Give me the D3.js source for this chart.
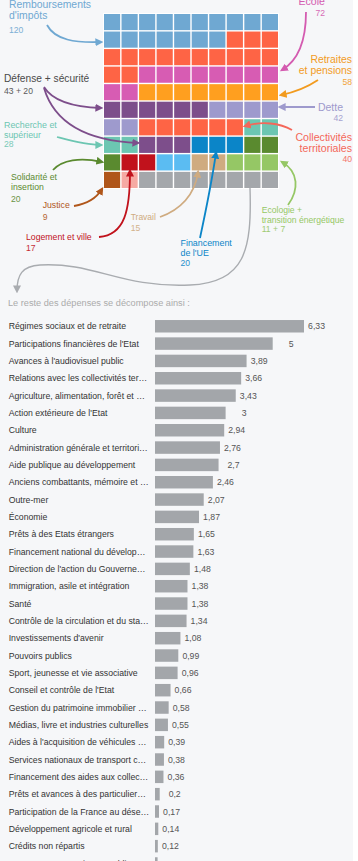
<!DOCTYPE html>
<html><head><meta charset="utf-8">
<script src="https://cdn.jsdelivr.net/npm/d3@7"></script>
<style>
html,body{margin:0;padding:0;background:#f6f7f9;}
svg{display:block;font-family:"Liberation Sans",Arial,sans-serif;}
</style></head>
<body><svg id="c" width="358" height="861"></svg>
<script>
// ---- Waffle data (runs of cells, row-major, 100 cells) ----
const waffleKeys   = ["remb","autres","ecole","retraites","defense","dette","collect","recherche","securite","ue","solidarite","logement","autre2","travail","ecologie","justice","logement2","reste"];
const waffleCounts = [17,15,10,8,6,6,6,4,3,3,3,2,2,2,3,1,1,8];

// ---- Annotation labels ----
const annNames  = ["Remboursements|d'impôts","Défense + sécurité","Recherche et|supérieur","École","Retraites|et pensions","Dette","Collectivités|territoriales","Solidarité et|insertion","Justice","Logement et ville","Travail","Financement|de l'UE","Ecologie +|transition énergétique"];
const annValues = ["120","43 + 20","28","72","58","42","40","20","9","17","15","20","11 + 7"];

// ---- Bar chart data ----
const barTitle = "Le reste des dépenses se décompose ainsi :";
const barCategories = [
 "Régimes sociaux et de retraite","Participations financières de l'Etat","Avances à l'audiovisuel public",
 "Relations avec les collectivités ter…","Agriculture, alimentation, forêt et …","Action extérieure de l'Etat",
 "Culture","Administration générale et territori…","Aide publique au développement",
 "Anciens combattants, mémoire et …","Outre-mer","Économie","Prêts à des Etats étrangers",
 "Financement national du dévelop…","Direction de l'action du Gouverne…","Immigration, asile et intégration",
 "Santé","Contrôle de la circulation et du sta…","Investissements d'avenir","Pouvoirs publics",
 "Sport, jeunesse et vie associative","Conseil et contrôle de l'Etat","Gestion du patrimoine immobilier …",
 "Médias, livre et industries culturelles","Aides à l'acquisition de véhicules …","Services nationaux de transport c…",
 "Financement des aides aux collec…","Prêts et avances à des particulier…","Participation de la France au dése…",
 "Développement agricole et rural","Crédits non répartis","Avances aux organismes publics"];
const barValues = [6.33,5,3.89,3.66,3.43,3,2.94,2.76,2.7,2.46,2.07,1.87,1.65,1.63,1.48,1.38,1.38,1.34,1.08,0.99,0.96,0.66,0.58,0.55,0.39,0.38,0.36,0.2,0.17,0.14,0.12,0.11];

// ---- Styles ----
const cellColor = d3.scaleOrdinal().domain(waffleKeys).range([
 "#6fa8d2","#fe6445","#d75cb3","#ff9f1f","#7d4e8b","#9e9acd","#fe6445","#6cc6b2","#7d4e8b","#0b85c8",
 "#5a8a2f","#c1121c","#5bbcf2","#cfab80","#95c765","#b0561a","#f6aaa3","#a4a7ab"]);

const svg = d3.select("#c");
svg.append("rect").attr("x",0).attr("y",0).attr("width",358).attr("height",861).attr("fill","#f6f7f9");
svg.append("rect").attr("x",353).attr("y",0).attr("width",5).attr("height",861).attr("fill","#ffffff");

// waffle cells
const cells = [];
waffleKeys.forEach((k,i)=>{ for(let j=0;j<waffleCounts[i];j++) cells.push(k); });
const wx = d3.scaleBand().domain(d3.range(10)).range([104,278]).paddingInner(0.08);
const wy = d3.scaleBand().domain(d3.range(10)).range([14,188]).paddingInner(0.08);
svg.append("rect").attr("x",103).attr("y",13).attr("width",176).attr("height",176).attr("fill","#ffffff");
svg.append("g").selectAll("rect").data(cells).join("rect")
  .attr("x",(d,i)=>wx(i%10)).attr("y",(d,i)=>wy(Math.floor(i/10)))
  .attr("width",wx.bandwidth()).attr("height",wy.bandwidth())
  .attr("fill",d=>cellColor(d));

// arrow markers
const defs = svg.append("defs");
function marker(id,color){
  defs.append("marker").attr("id",id).attr("viewBox","0 0 10 10").attr("refX",7).attr("refY",5)
   .attr("markerUnits","userSpaceOnUse").attr("markerWidth",8).attr("markerHeight",8).attr("orient","auto")
   .append("path").attr("d","M0,0 L10,5 L0,10 z").attr("fill",color);
}
const annColors = ["#6fa8d2","#4a4a4a","#6cc6b2","#d45bb0","#f29b1f","#9e9acd","#f4675a","#5a8a2f","#b0561a","#c1121c","#cfab80","#0b85c8","#95c765"];
const arrowColors = ["#6fa8d2","#7d4e8b","#6cc6b2","#d45bb0","#f29b1f","#9e9acd","#f4675a","#5a8a2f","#b0561a","#c1121c","#cfab80","#0b85c8","#95c765","#a9acb0"];
arrowColors.forEach((c,i)=>marker("m"+i,c));

const arrows = [
 [0,"M47,25 C55,40 75,43 101,42"],
 [1,"M44,87 C52,100 70,107 101,108"],
 [1,"M44,88 C55,125 90,141 138,143"],
 [2,"M57,137 C72,141 86,145 101,145"],
 [3,"M306,12 C306,40 299,60 282,70"],
 [4,"M318,80 C306,88 296,92 281,95"],
 [5,"M315,107 L280,107"],
 [6,"M292,130 C280,123 262,121 245,126"],
 [7,"M53,170 C62,160 80,157 102,162"],
 [8,"M74,206 C86,204 96,199 102,189"],
 [9,"M99,237 C125,235 130,210 130,171"],
 [10,"M160,217 C180,210 195,195 198,172"],
 [11,"M200,238 C206,210 212,180 216,153"],
 [12,"M288,205 C299,190 299,172 282,162"],
 [13,"M250,188 C252,250 245,283 190,285 C120,288 95,262 40,265 C22,266 17,275 17,291"]
];
svg.append("g").selectAll("path").data(arrows).join("path")
  .attr("d",d=>d[1]).attr("fill","none")
  .attr("stroke",d=>arrowColors[d[0]]).attr("stroke-width",d=>d[0]===13?1.4:1.8)
  .attr("marker-end",d=>"url(#m"+d[0]+")");

// annotation texts: [x, anchor, baselines..., valueBaseline, nameSize]
const annLayout = [
 [9,"start",[8.3,19.3],32.5,10.4],
 [4,"start",[81.5],93.5,10.2],
 [4,"start",[128,137.5],147,8.9],
 [325,"end",[5],15.7,10.6],
 [352,"end",[63.3,74.3],85,10.4],
 [343,"end",[111],121,10.5],
 [352,"end",[141,151.5],161.5,10.6],
 [11,"start",[180,189.5],201.5,8.7],
 [42.7,"start",[208],220,8.7],
 [26,"start",[240],251,8.7],
 [130.7,"start",[220],230.5,8.5],
 [180.5,"start",[246,256],266,8.9],
 [261.7,"start",[212.5,222.5],231.5,8.6]
];
const ann = svg.append("g");
annNames.forEach((nm,i)=>{
  const L = annLayout[i];
  nm.split("|").forEach((line,j)=>{
    ann.append("text").attr("x",L[0]).attr("y",L[2][j]).attr("text-anchor",L[1])
      .attr("font-size",L[4]).attr("fill",annColors[i]).text(line);
  });
  ann.append("text").attr("x",L[0]).attr("y",L[3]).attr("text-anchor",L[1])
    .attr("font-size",8.6).attr("fill",annColors[i]).attr("opacity",0.9).text(annValues[i]);
});

// ---- bar chart ----
svg.append("text").attr("x",8).attr("y",306).attr("font-size",9.2).attr("fill","#ababab").text(barTitle);
const step = 17.33;
const y = d3.scaleBand().domain(barCategories).range([317.6,317.6+step*barCategories.length]).paddingInner(0.28).paddingOuter(0.14);
const x = d3.scaleLinear().domain([0,6.33]).range([155,304]);
const rows = svg.append("g").selectAll("g").data(barCategories).join("g");
rows.append("rect").attr("x",x(0)).attr("y",d=>y(d))
  .attr("width",(d,i)=>x(barValues[i])-x(0)).attr("height",y.bandwidth()).attr("fill","#a3a6aa");
rows.append("text").attr("x",8.7).attr("y",d=>y(d)+y.bandwidth()/2+3.1)
  .attr("font-size",8.7).attr("fill","#333").text(d=>d);
rows.append("text").attr("x",(d,i)=>x(barValues[i])+21).attr("y",d=>y(d)+y.bandwidth()/2+3.1)
  .attr("text-anchor","end").attr("font-size",8.7).attr("fill","#555")
  .text((d,i)=>String(barValues[i]).replace(".",","));
</script></body></html>
